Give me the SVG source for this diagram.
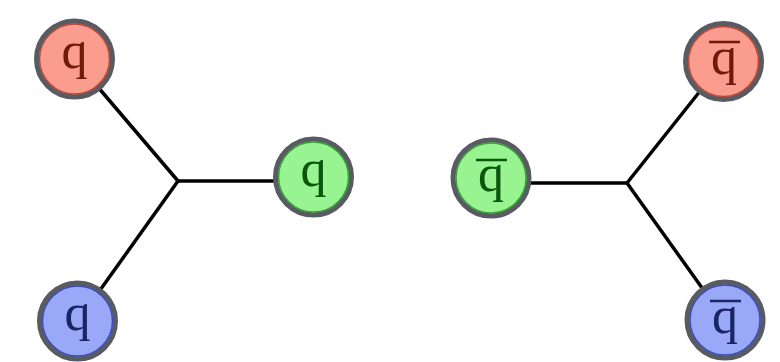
<svg xmlns="http://www.w3.org/2000/svg" width="780" height="362" viewBox="0 0 780 362">
<style>
.edge{stroke:#000;stroke-width:3.5;fill:none}
.ring{stroke:#585c62;stroke-width:5}
.inner{fill:none;stroke-width:1.5}
.lbl{font-family:"Liberation Serif","Times New Roman",serif;font-size:52px;text-anchor:middle}
.red .inner{stroke:#b8483a}.red circle.bg{fill:#fa9c8e}.red text{fill:#6e1a0c}.red line{stroke:#6e1a0c}
.green .inner{stroke:#3aa03a}.green circle.bg{fill:#98f490}.green text{fill:#0b560b}.green line{stroke:#0b560b}
.blue .inner{stroke:#3c4cb8}.blue circle.bg{fill:#9aa9f7}.blue text{fill:#1a2566}.blue line{stroke:#1a2566}
.bar{stroke-width:2.5}
</style>
<rect width="780" height="362" fill="#fff"/>
<g id="connectors">
<line class="edge" x1="74" y1="59" x2="178" y2="181"/>
<line class="edge" x1="178" y1="181" x2="313" y2="181"/>
<line class="edge" x1="178" y1="181" x2="78" y2="321"/>
<line class="edge" x1="491" y1="183" x2="627" y2="183"/>
<line class="edge" x1="627" y1="183" x2="724" y2="61"/>
<line class="edge" x1="627" y1="183" x2="725" y2="320"/>
</g>
<g id="q-red" class="red">
<circle class="bg ring" cx="74.5" cy="59" r="38"/>
<circle class="inner" cx="74.5" cy="59" r="35"/>
<text class="lbl" x="74.5" y="68">q</text>
</g>
<g id="q-green" class="green">
<circle class="bg ring" cx="313.5" cy="177" r="38"/>
<circle class="inner" cx="313.5" cy="177" r="35"/>
<text class="lbl" x="313.5" y="186">q</text>
</g>
<g id="q-blue" class="blue">
<circle class="bg ring" cx="77.5" cy="321" r="38"/>
<circle class="inner" cx="77.5" cy="321" r="35"/>
<text class="lbl" x="77.5" y="330">q</text>
</g>
<g id="qbar-green" class="green">
<circle class="bg ring" cx="491" cy="178" r="38"/>
<circle class="inner" cx="491" cy="178" r="35"/>
<text class="lbl" x="491" y="191">q</text>
<line class="bar" x1="476" y1="160" x2="507" y2="160"/>
</g>
<g id="qbar-red" class="red">
<circle class="bg ring" cx="723.5" cy="61.5" r="38"/>
<circle class="inner" cx="723.5" cy="61.5" r="35"/>
<text class="lbl" x="724" y="74">q</text>
<line class="bar" x1="709" y1="42" x2="740" y2="42"/>
</g>
<g id="qbar-blue" class="blue">
<circle class="bg ring" cx="725" cy="320" r="38"/>
<circle class="inner" cx="725" cy="320" r="35"/>
<text class="lbl" x="725" y="333">q</text>
<line class="bar" x1="710" y1="301" x2="741" y2="301"/>
</g>
</svg>
